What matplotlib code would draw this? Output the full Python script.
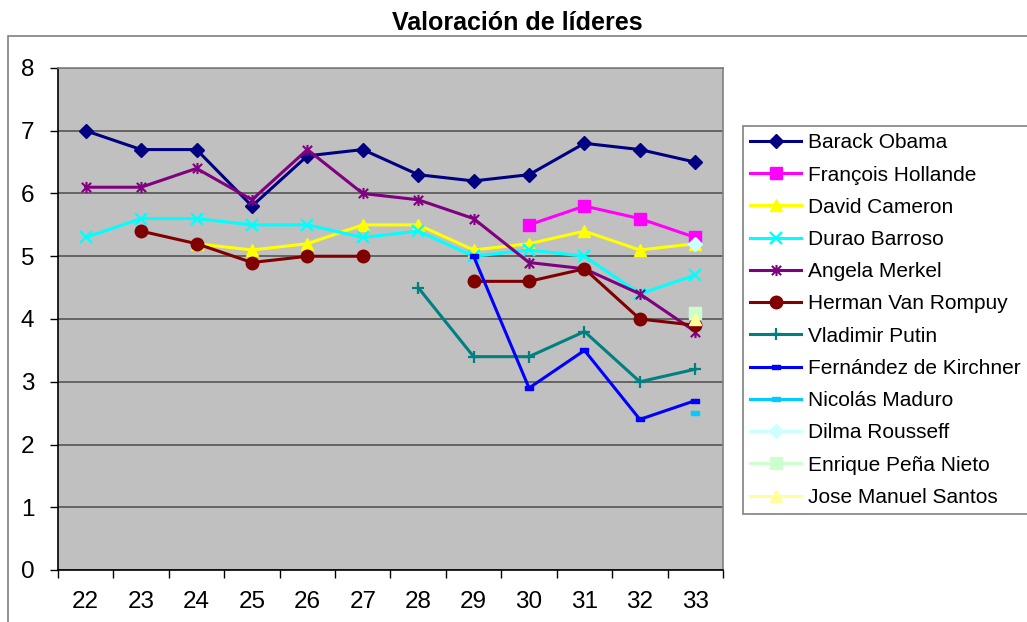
import numpy as np
import matplotlib
matplotlib.use("Agg")
import matplotlib.pyplot as plt
from matplotlib.path import Path
from matplotlib.patches import Rectangle

plt.rcParams['font.family'] = ['Liberation Sans', 'DejaVu Sans']

categories = ["22", "23", "24", "25", "26", "27", "28", "29", "30", "31", "32", "33"]
nan = np.nan
obama = [7.0, 6.7, 6.7, 5.8, 6.6, 6.7, 6.3, 6.2, 6.3, 6.8, 6.7, 6.5]
hollande = [nan, nan, nan, nan, nan, nan, nan, nan, 5.5, 5.8, 5.6, 5.3]
cameron = [nan, nan, 5.2, 5.1, 5.2, 5.5, 5.5, 5.1, 5.2, 5.4, 5.1, 5.2]
barroso = [5.3, 5.6, 5.6, 5.5, 5.5, 5.3, 5.4, 5.0, 5.1, 5.0, 4.4, 4.7]
merkel = [6.1, 6.1, 6.4, 5.9, 6.7, 6.0, 5.9, 5.6, 4.9, 4.8, 4.4, 3.8]
vanrompuy = [nan, 5.4, 5.2, 4.9, 5.0, 5.0, nan, 4.6, 4.6, 4.8, 4.0, 3.9]
putin = [nan, nan, nan, nan, nan, nan, 4.5, 3.4, 3.4, 3.8, 3.0, 3.2]
kirchner = [nan, nan, nan, nan, nan, nan, nan, 5.0, 2.9, 3.5, 2.4, 2.7]
maduro = [nan] * 11 + [2.5]
rousseff = [nan] * 11 + [5.2]
penanieto = [nan] * 11 + [4.1]
santos = [nan] * 11 + [4.0]

names = ["Barack Obama", "François Hollande", "David Cameron", "Durao Barroso",
         "Angela Merkel", "Herman Van Rompuy", "Vladimir Putin",
         "Fernández de Kirchner", "Nicolás Maduro", "Dilma Rousseff",
         "Enrique Peña Nieto", "Jose Manuel Santos"]
series = [obama, hollande, cameron, barroso, merkel, vanrompuy, putin,
          kirchner, maduro, rousseff, penanieto, santos]

star = Path([(-1, -1), (1, 1), (-1, 1), (1, -1), (0, -1.2), (0, 1.2)],
            [Path.MOVETO, Path.LINETO, Path.MOVETO, Path.LINETO, Path.MOVETO, Path.LINETO])
dash = Path([(-1, -0.45), (1, -0.45), (1, 0.45), (-1, 0.45), (-1, -0.45)],
            [Path.MOVETO, Path.LINETO, Path.LINETO, Path.LINETO, Path.CLOSEPOLY])

styles = [
    dict(color="#000080", marker="D", ms=7.5),
    dict(color="#FF00FF", marker="s", ms=8.5),
    dict(color="#FFFF00", marker="^", ms=9),
    dict(color="#00FFFF", marker="x", ms=8, mew=1.7),
    dict(color="#800080", marker=star, ms=8, mew=1.5),
    dict(color="#800000", marker="o", ms=9),
    dict(color="#008080", marker="+", ms=9, mew=1.6),
    dict(color="#0000FF", marker=dash, ms=6),
    dict(color="#00CCFF", marker=dash, ms=6),
    dict(color="#CCFFFF", marker="D", ms=7.5),
    dict(color="#CCFFCC", marker="s", ms=8.5),
    dict(color="#FFFF99", marker="^", ms=9),
]

fig = plt.figure(figsize=(10.27, 6.22), dpi=100)
ax = fig.add_axes([58/1027, 1-570/622, (723-58)/1027, (570-68)/622])
ax.set_facecolor("#C0C0C0")

# outer chart frame
fig.patches.append(Rectangle((8/1027, -0.05), 1.2, 1-36/622+0.05, transform=fig.transFigure,
                             fill=False, edgecolor="#808080", lw=1.2, zorder=0))

x = np.arange(len(categories))
for name, vals, st in zip(names, series, styles):
    ax.plot(x, vals, color=st["color"], lw=2.2, marker=st["marker"], ms=st["ms"],
            mew=st.get("mew", 1.0), mfc=st["color"], mec=st["color"], label=name,
            clip_on=False)

ax.set_xlim(-0.5, 11.5)
ax.set_ylim(0, 8)
ax.set_yticks(range(0, 9))
ax.yaxis.grid(True, color="#555555", lw=1.2)
ax.set_axisbelow(True)
ax.set_xticks(np.arange(-0.5, 12, 1))
ax.set_xticklabels([])
ax.set_xticks(x, minor=True)
ax.set_xticklabels(categories, minor=True)
ax.tick_params(axis="x", which="major", direction="out", length=6, width=1, color="black")
ax.tick_params(axis="x", which="minor", length=0, pad=15, labelsize=17.5)
ax.tick_params(axis="y", direction="out", length=6, width=1, pad=11, labelsize=17.5)
for s in ["top", "right"]:
    ax.spines[s].set_color("#808080")
    ax.spines[s].set_linewidth(1.2)
for s in ["left", "bottom"]:
    ax.spines[s].set_color("black")
    ax.spines[s].set_linewidth(1.2)

fig.text(517/1027, 1-23/622, "Valoración de líderes", ha="center", va="center",
         fontsize=18, fontweight="bold")

leg = ax.legend(loc="upper left", bbox_to_anchor=(743/1027, 1-126/622),
                bbox_transform=fig.transFigure, borderaxespad=0, fontsize=15,
                labelspacing=0.635, handlelength=2.45, handletextpad=0.34,
                borderpad=0.35, fancybox=False, edgecolor="#808080", framealpha=1)
leg.get_frame().set_linewidth(1.2)

fig.savefig("out.png", dpi=100)
